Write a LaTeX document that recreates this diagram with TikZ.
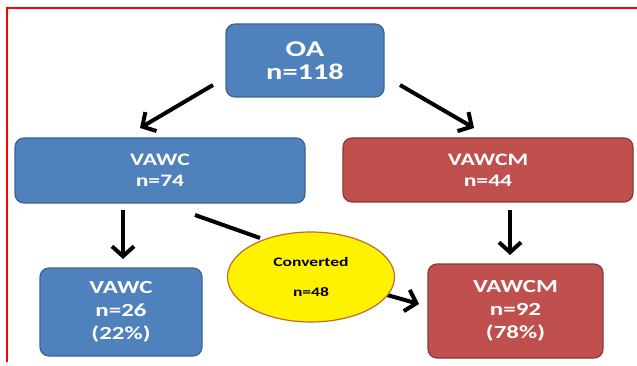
\documentclass[tikz,border=0pt]{standalone}
\usepackage{fontspec}
\setmainfont{Carlito}[FakeStretch=1.35]
\usetikzlibrary{arrows.meta,shapes.geometric}
\definecolor{boxblue}{HTML}{4F81BD}
\definecolor{boxblueedge}{HTML}{3A6394}
\definecolor{boxred}{HTML}{C0504D}
\definecolor{boxrededge}{HTML}{8C3836}
\definecolor{convedge}{HTML}{B9702C}
\tikzset{
  x=1pt, y=-1pt,
  bluebox/.style={draw=boxblueedge, line width=1.2pt, fill=boxblue, rounded corners=9pt,
    text=white, font=\bfseries, align=center, inner sep=0pt},
  redbox/.style={draw=boxrededge, line width=1.2pt, fill=boxred, rounded corners=9pt,
    text=white, font=\bfseries, align=center, inner sep=0pt},
  flow/.style={line width=4pt, -{Straight Barb[length=10pt,width=22pt,line width=4pt]}},
  plainline/.style={line width=4pt},
}
\begin{document}
\begin{tikzpicture}
\useasboundingbox (0,0) rectangle (637,366);
% frame lines
\draw[red, line width=1.3pt] (7,362) -- (7,8) -- (637,8);

% boxes
\node[bluebox, minimum width=158pt, minimum height=73pt, font=\bfseries\fontsize{22.5}{23}\selectfont]
  (oa) at (305,60.5) {OA\\n=118};
\node[bluebox, minimum width=290pt, minimum height=65pt, font=\bfseries\fontsize{17.5}{21}\selectfont]
  (vawc) at (160,170.5) {VAWC\\n=74};
\node[redbox, minimum width=290pt, minimum height=64pt, font=\bfseries\fontsize{17.5}{21}\selectfont]
  (vawcm) at (488,170) {VAWCM\\n=44};
\node[bluebox, minimum width=162pt, minimum height=88pt, font=\bfseries\fontsize{18.5}{23}\selectfont]
  (vawcb) at (121,312) {VAWC\\n=26\\(22\%)};
\node[redbox, minimum width=175pt, minimum height=94pt, font=\bfseries\fontsize{18.5}{23}\selectfont]
  (vawcmb) at (515.5,311) {VAWCM\\n=92\\(78\%)};

% arrow end points
\coordinate (a1s) at (213,85);
\coordinate (a1e) at (140,128);
\coordinate (a2s) at (400,85);
\coordinate (a2e) at (474,128);
\coordinate (a3s) at (123,210);
\coordinate (a3e) at (123,259);
\coordinate (a4s) at (510,210);
\coordinate (a4e) at (510,255);
\coordinate (c1s) at (195,215);
\coordinate (c2e) at (419,304);

\draw[flow] (a1s) -- (a1e);
\draw[flow] (a2s) -- (a2e);
\draw[flow] (a3s) -- (a3e);
\draw[flow] (a4s) -- (a4e);

% converted patients
\coordinate (convc) at (311,277);
\draw[plainline] (c1s) -- (260,238);
\draw[flow] (380,293) -- (c2e);
\node[ellipse, draw=convedge, line width=1.2pt, fill=yellow, minimum width=167pt, minimum height=90pt,
  inner sep=0pt, align=center, font=\bfseries\fontsize{13}{30}\selectfont]
  (conv) at (convc) {Converted\\n=48};
\end{tikzpicture}
\end{document}
